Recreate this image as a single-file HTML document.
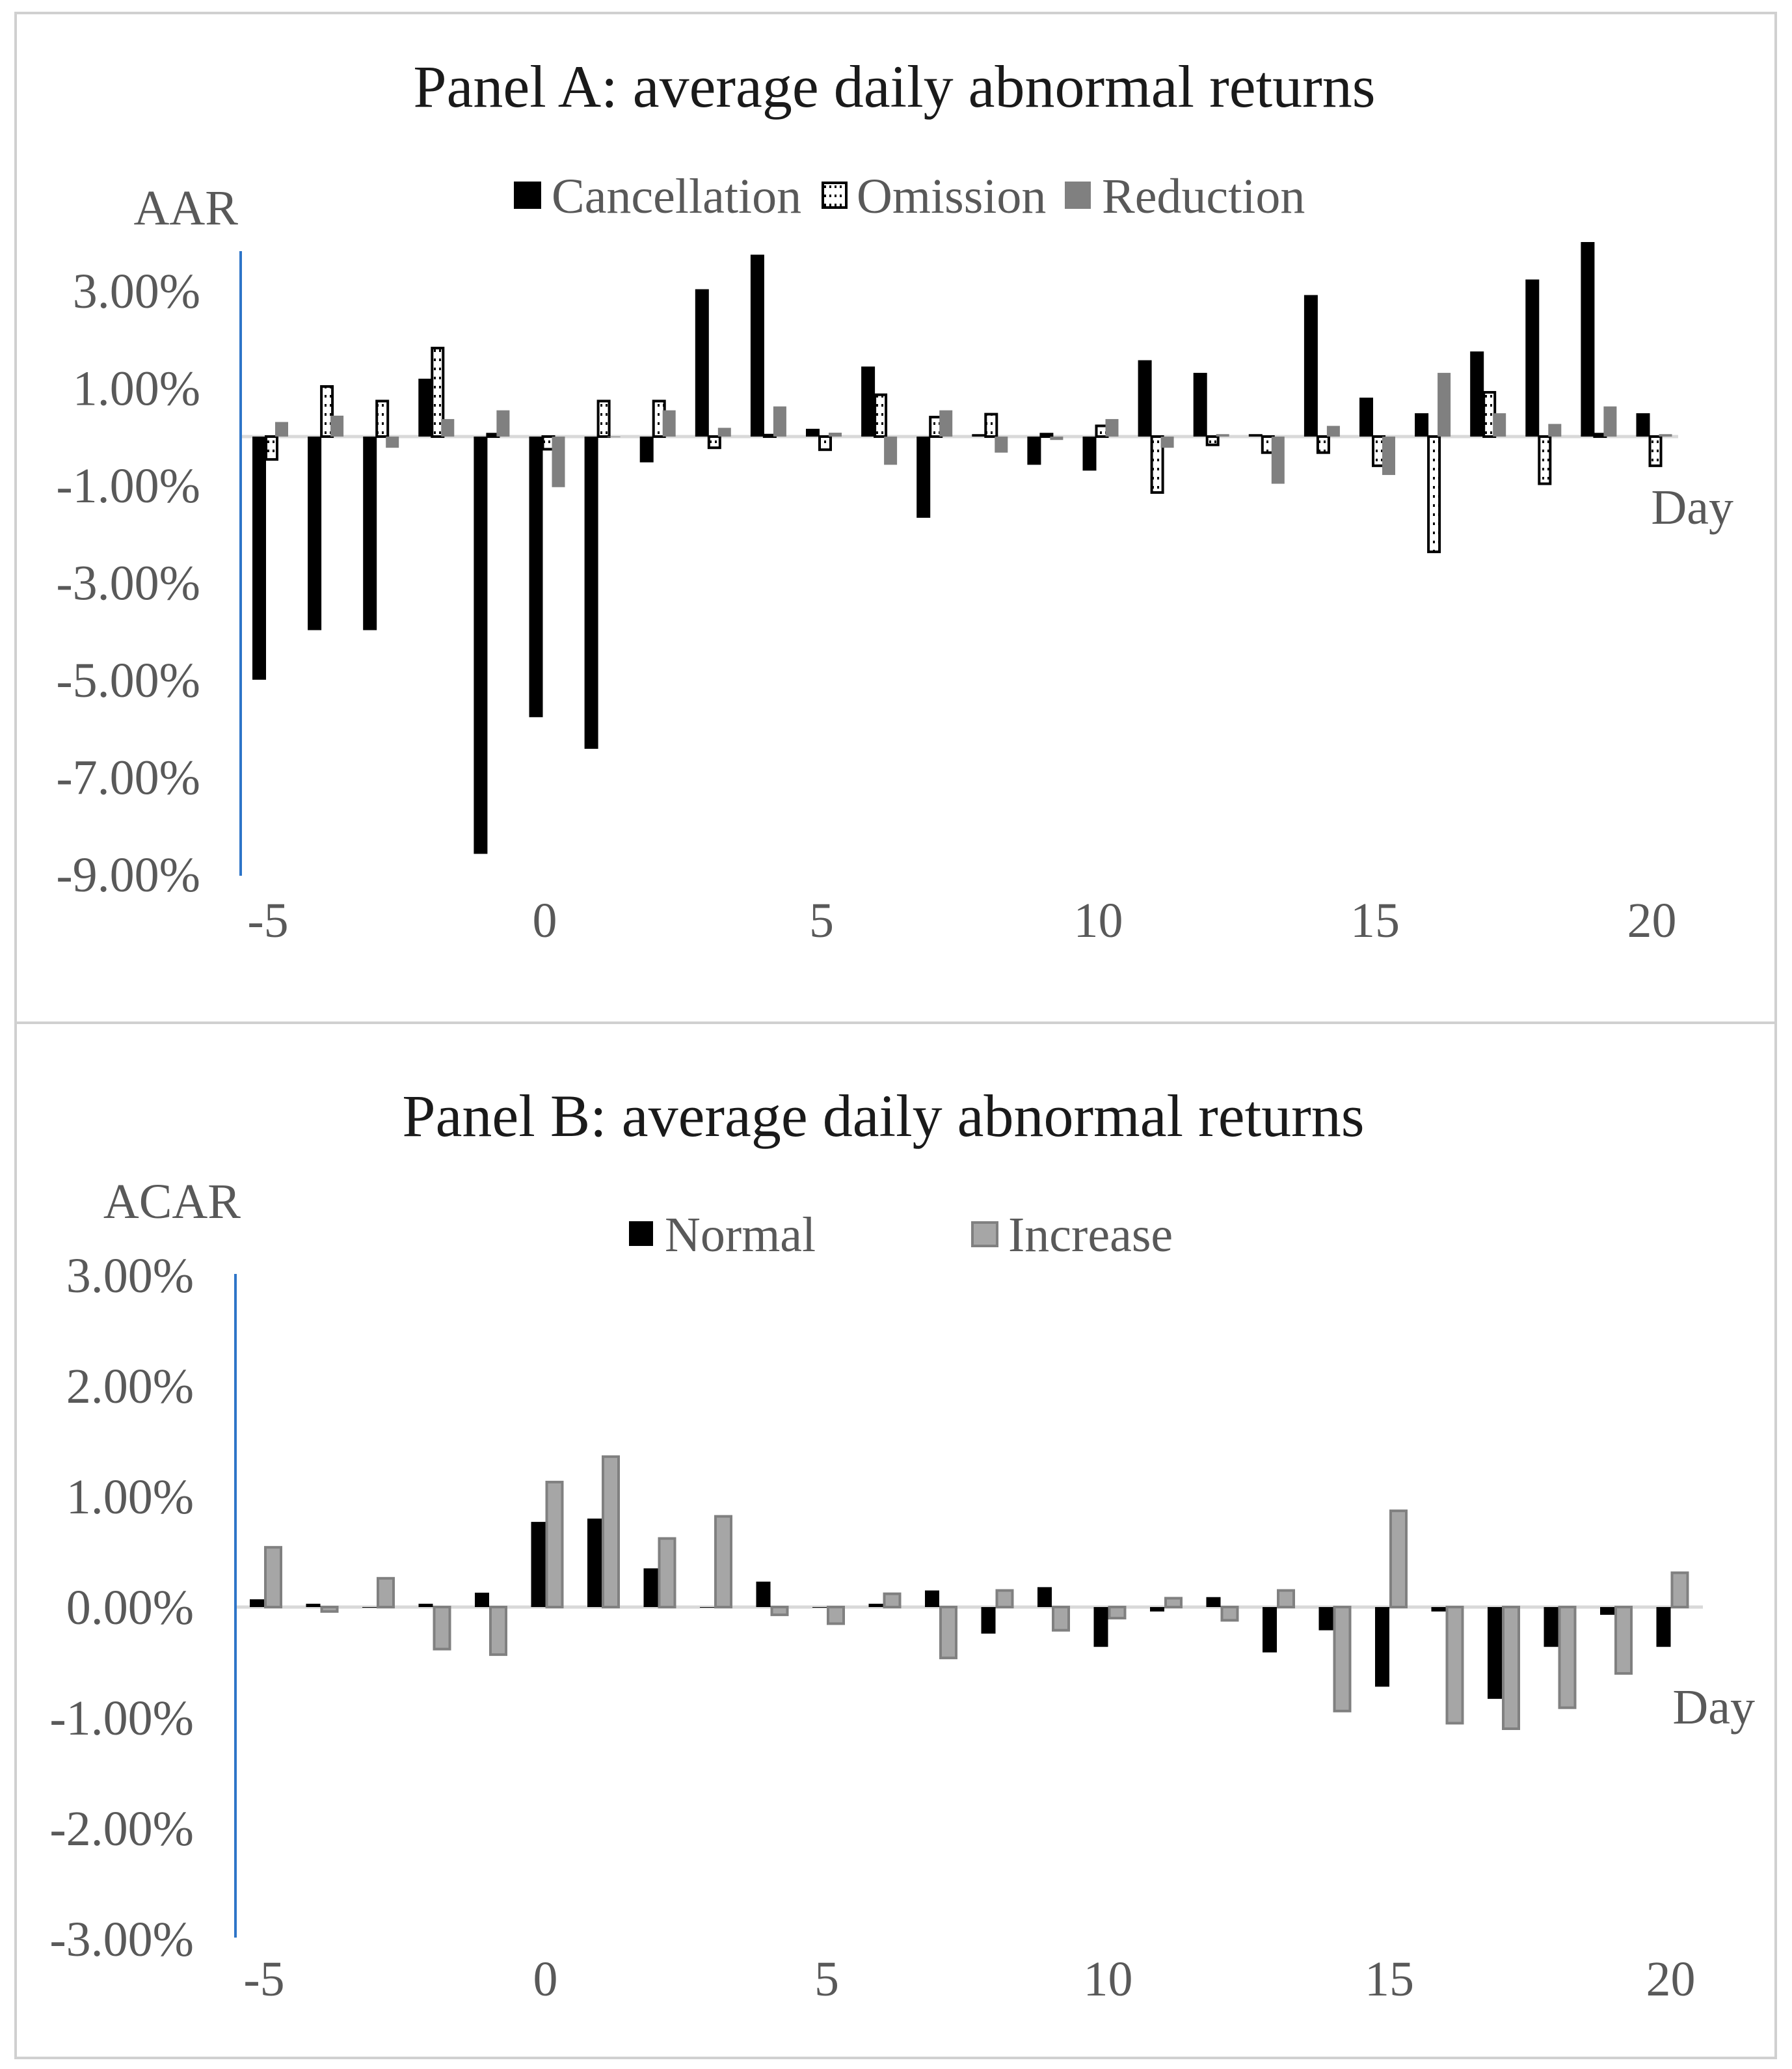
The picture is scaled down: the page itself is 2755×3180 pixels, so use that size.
<!DOCTYPE html>
<html><head><meta charset="utf-8"><style>
html,body{margin:0;padding:0;background:#fff}
svg{display:block}
text{font-family:"Liberation Serif",serif;fill:#595959}
</style></head><body>
<svg id="chart" width="2755" height="3180" viewBox="0 0 2755 3180" xmlns="http://www.w3.org/2000/svg">
<defs>
<pattern id="dots" width="8" height="14" patternUnits="userSpaceOnUse"><rect width="8" height="14" fill="#fff"/><rect x="3" y="5" width="3" height="4" fill="#000"/></pattern>
</defs>
<rect x="24" y="20" width="2706" height="3143" fill="none" stroke="#d0d0d0" stroke-width="4"/>
<line x1="24" y1="1572" x2="2730" y2="1572" stroke="#d0d0d0" stroke-width="4"/>
<g id="pA"></g>
<g id="pB"></g>
</svg>
<script>
const days = [-5,-4,-3,-2,-1,0,1,2,3,4,5,6,7,8,9,10,11,12,13,14,15,16,17,18,19,20];
const cancellation = [-5.0,-3.98,-3.98,1.19,-8.58,-5.77,-6.42,-0.53,3.03,3.74,0.16,1.44,-1.67,0.05,-0.58,-0.70,1.57,1.31,0.05,2.91,0.80,0.48,1.75,3.23,4.0,0.48];
const omission = [-0.47,1.03,0.73,1.82,0.05,-0.26,0.73,0.73,-0.23,0.03,-0.27,0.86,0.40,0.46,0.05,0.22,-1.15,-0.17,-0.33,-0.33,-0.60,-2.37,0.91,-0.97,0.05,-0.60];
const reduction = [0.30,0.43,-0.23,0.36,0.54,-1.04,0,0.54,0.18,0.62,0.08,-0.58,0.54,-0.33,-0.07,0.36,-0.23,0.05,-0.97,0.22,-0.79,1.31,0.48,0.26,0.62,0.05];
const normal = [0.07,0.03,0,0.03,0.13,0.77,0.80,0.35,0,0.23,0,0.03,0.15,-0.24,0.18,-0.36,-0.04,0.09,-0.41,-0.21,-0.72,-0.04,-0.83,-0.36,-0.07,-0.36];
const increase = [0.54,-0.04,0.26,-0.38,-0.43,1.13,1.36,0.62,0.82,-0.07,-0.15,0.12,-0.46,0.15,-0.21,-0.10,0.08,-0.12,0.15,-0.94,0.87,-1.05,-1.10,-0.91,-0.60,0.31];
const ticksA = [3,1,-1,-3,-5,-7,-9];
const ticksB = [3,2,1,0,-1,-2,-3];
const xTicks = [-5,0,5,10,15,20];

const NS="http://www.w3.org/2000/svg";
function mk(parent,tag,attrs,txt){const e=document.createElementNS(NS,tag);for(const k in attrs)e.setAttribute(k,attrs[k]);if(txt!==undefined)e.textContent=txt;parent.appendChild(e);return e;}

// Panel A
const gA=document.getElementById('pA');
const xA=d=>412+(d+5)*85.1;
const yA=v=>671-v*74.75;
mk(gA,'text',{x:1375,y:164,'font-size':92,'text-anchor':'middle',style:'fill:#1a1a1a',},'Panel A: average daily abnormal returns');
mk(gA,'text',{x:366,y:345,'font-size':76,'text-anchor':'end',},'AAR');
mk(gA,'text',{x:2665,y:805,'font-size':76,'text-anchor':'end',},'Day');
ticksA.forEach(t=>{const e=mk(gA,'text',{x:308,y:yA(t)+26,'font-size':76,'text-anchor':'end'},t.toFixed(2)+'%');

});
xTicks.forEach(t=>{const e=mk(gA,'text',{x:xA(t),y:1440,'font-size':76,'text-anchor':'middle'},String(t));

});
mk(gA,'line',{x1:370,y1:yA(0),x2:2580,y2:yA(0),stroke:'#d9d9d9','stroke-width':5,});
function barA(parent,x,w,v,fill,stroke,name){const y0=yA(0),y1=yA(v);const e=mk(parent,'rect',{x:x,y:Math.min(y0,y1),width:w,height:Math.max(Math.abs(y1-y0),1),fill:fill,stroke:stroke,'stroke-width':stroke==='none'?0:4});

}
days.forEach((d,i)=>{const c=xA(d)+2;
barA(gA,c-26,21,cancellation[i],'#000','none','bar-cancellation');
barA(gA,c-5,17,omission[i],'url(#dots)','#000','bar-omission');
barA(gA,c+9,20,reduction[i],'#808080','none','bar-reduction');});
mk(gA,'line',{x1:370,y1:386,x2:370,y2:1346,stroke:'#2e75c8','stroke-width':4,});
// legend A
mk(gA,'rect',{x:790,y:279,width:42,height:42,fill:'#000',});
mk(gA,'text',{x:848,y:327,'font-size':76,},'Cancellation');
mk(gA,'rect',{x:1265,y:281,width:36,height:38,fill:'url(#dots)',stroke:'#000','stroke-width':4,});
mk(gA,'text',{x:1317,y:327,'font-size':76,},'Omission');
mk(gA,'rect',{x:1637,y:279,width:40,height:42,fill:'#808080',});
mk(gA,'text',{x:1694,y:327,'font-size':76,},'Reduction');

// Panel B
const gB=document.getElementById('pB');
const xB=d=>406+(d+5)*86.5;
const yB=v=>2470-v*170;
mk(gB,'text',{x:1358,y:1746,'font-size':92,'text-anchor':'middle',style:'fill:#1a1a1a',},'Panel B: average daily abnormal returns');
mk(gB,'text',{x:370,y:1872,'font-size':76,'text-anchor':'end',},'ACAR');
mk(gB,'text',{x:2698,y:2649,'font-size':76,'text-anchor':'end',},'Day');
ticksB.forEach(t=>{const e=mk(gB,'text',{x:298,y:yB(t)+26,'font-size':76,'text-anchor':'end'},t.toFixed(2)+'%');

});
xTicks.forEach(t=>{const e=mk(gB,'text',{x:xB(t),y:3067,'font-size':76,'text-anchor':'middle'},String(t));

});
mk(gB,'line',{x1:362,y1:yB(0),x2:2618,y2:yB(0),stroke:'#d9d9d9','stroke-width':5,});
function barB(x,w,v,fill,stroke,name){const y0=yB(0),y1=yB(v);const e=mk(gB,'rect',{x:x,y:Math.min(y0,y1),width:w,height:Math.max(Math.abs(y1-y0),1),fill:fill,stroke:stroke,'stroke-width':stroke==='none'?0:4});

}
days.forEach((d,i)=>{const c=xB(d)+2;
barB(c-24,22,normal[i],'#000','none','bar-normal');
barB(c,24,increase[i],'#a6a6a6','#808080','bar-increase');});
mk(gB,'line',{x1:362,y1:1958,x2:362,y2:2978,stroke:'#2e75c8','stroke-width':4,});
mk(gB,'rect',{x:967,y:1877,width:37,height:38,fill:'#000',});
mk(gB,'text',{x:1022,y:1923,'font-size':76,},'Normal');
mk(gB,'rect',{x:1495,y:1879,width:38,height:36,fill:'#a6a6a6',stroke:'#808080','stroke-width':4,});
mk(gB,'text',{x:1550,y:1923,'font-size':76,},'Increase');
</script>
</body></html>
